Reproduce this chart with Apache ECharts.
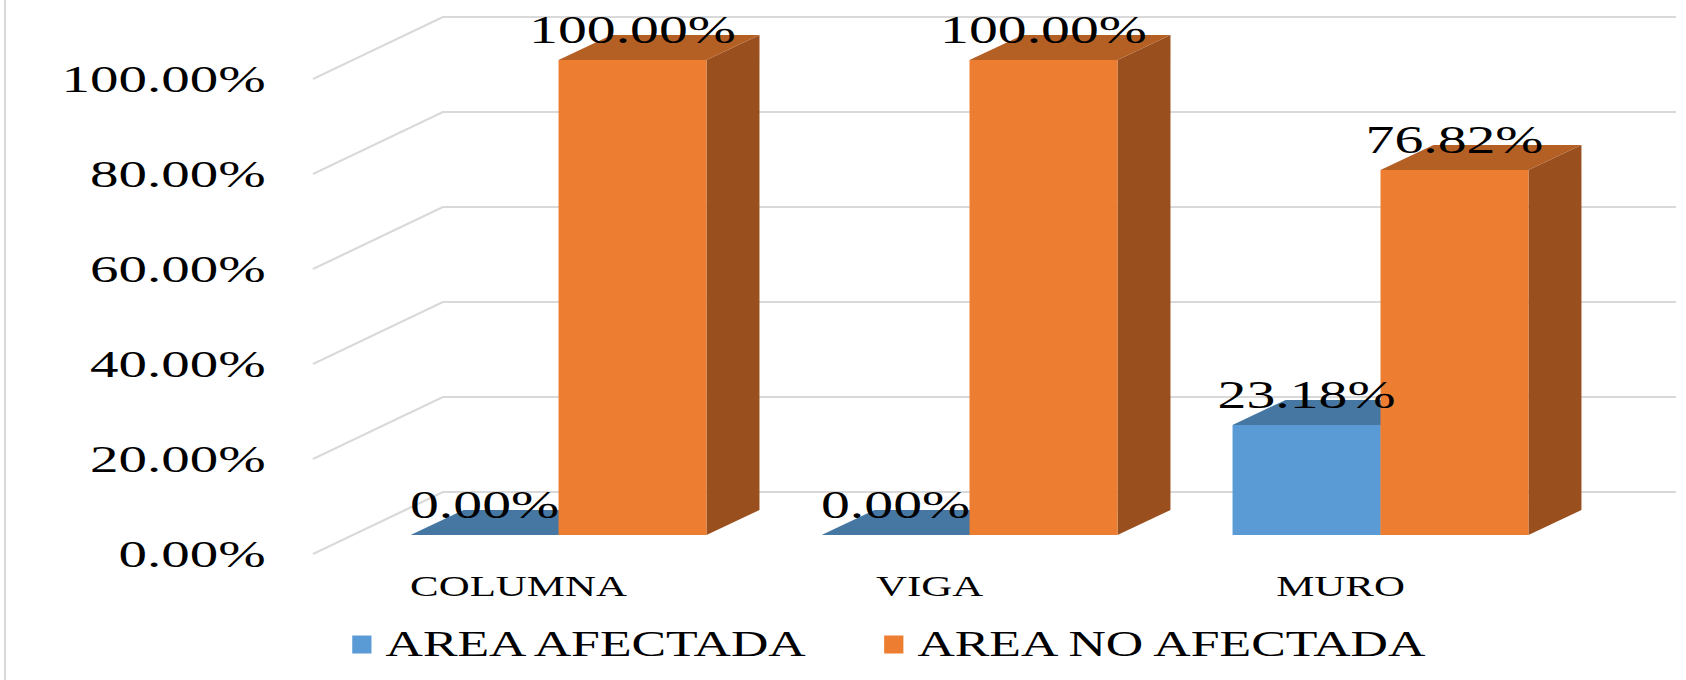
<!DOCTYPE html>
<html><head><meta charset="utf-8">
<script src="https://cdn.jsdelivr.net/npm/echarts@6/dist/echarts.min.js"></script>
<style>
html,body{margin:0;padding:0;background:#fff;overflow:hidden}
#wrap{width:1686px;height:680px;overflow:hidden;position:relative}
#chart{width:1139px;height:680px;transform:scaleX(1.48);transform-origin:0 0}
</style></head>
<body><div id="wrap"><div id="chart"></div></div>
<script>
// ---- data ----
const categories = ['COLUMNA', 'VIGA', 'MURO'];
const seriesNames = ['AREA AFECTADA', 'AREA NO AFECTADA'];
const areaAfectada = [0.00, 0.00, 23.18];
const areaNoAfectada = [100.00, 100.00, 76.82];
const yTicks = [0, 20, 40, 60, 80, 100];

// ---- layout / style ----
const S = 1.48; // horizontal stretch of the original picture
const FONT = '"Liberation Serif","Times New Roman",serif';
const WALL = {dx: 130 / S, dy: -62};
const BAR_OFF = {dx: 40 / S, dy: -19};
const DEPTH = {dx: 53 / S, dy: -25};
const BAR_RATIO = 0.36;
const BLUE = {front: '#5B9BD5', top: '#4676A2', side: '#3B658C'};
const ORANGE = {front: '#ED7D31', top: '#B45F24', side: '#9A4F1F'};

const chart = echarts.init(document.getElementById('chart'), null, {renderer: 'svg', width: 1139, height: 680});

function geom(api, side) {
  const i = api.value(0), v = api.value(1);
  const top = api.coord([i, v]), base = api.coord([i, 0]);
  const band = api.size([1, 0])[0];
  const w = band * BAR_RATIO;
  const x0 = base[0] + BAR_OFF.dx - (side === 0 ? w : 0);
  return {x0: x0, x1: x0 + w, w: w, yt: top[1] + BAR_OFF.dy, yb: base[1] + BAR_OFF.dy, v: v};
}

function gridRender(params, api) {
  const y = api.coord([0, api.value(1)])[1];
  const cs = params.coordSys;
  const x0 = cs.x, x1 = cs.x + cs.width;
  return {
    type: 'polyline', silent: true,
    shape: {points: [[x0, y], [x0 + WALL.dx, y + WALL.dy], [x1 + WALL.dx, y + WALL.dy]]},
    style: {stroke: '#d9d9d9', lineWidth: 2, fill: null}
  };
}

function barRender(side, c) {
  return function (params, api) {
    const g = geom(api, side);
    const d = DEPTH;
    const children = [
      {type: 'polygon', shape: {points: [[g.x1, g.yt], [g.x1 + d.dx, g.yt + d.dy], [g.x1 + d.dx, g.yb + d.dy], [g.x1, g.yb]]}, style: {fill: c.side}},
      {type: 'polygon', shape: {points: [[g.x0, g.yt], [g.x1, g.yt], [g.x1 + d.dx, g.yt + d.dy], [g.x0 + d.dx, g.yt + d.dy]]}, style: {fill: c.top}}
    ];
    if (g.yb - g.yt > 0.5) {
      children.push({type: 'rect', shape: {x: g.x0, y: g.yt, width: g.w, height: g.yb - g.yt}, style: {fill: c.front}});
    }
    return {type: 'group', children: children};
  };
}

function labelRender(side) {
  return function (params, api) {
    const g = geom(api, side);
    return {
      type: 'text', silent: true,
      x: g.x0 + g.w / 2, y: g.yt - 30,
      style: {
        text: g.v.toFixed(2) + '%', fill: '#000',
        fontSize: 39, fontFamily: FONT,
        align: 'center', verticalAlign: 'middle'
      }
    };
  };
}

const toData = arr => arr.map((v, i) => [i, v]);

chart.setOption({
  animation: false,
  backgroundColor: '#fff',
  grid: {left: 211.5, right: 94.4, top: 79, bottom: 126},
  xAxis: {
    type: 'category', data: categories,
    axisLine: {show: false}, axisTick: {show: false}, splitLine: {show: false},
    axisLabel: {fontSize: 29, fontFamily: FONT, color: '#000', margin: 18}
  },
  yAxis: {
    type: 'value', min: 0, max: 100, interval: 20,
    axisLine: {show: false}, axisTick: {show: false}, splitLine: {show: false},
    axisLabel: {fontSize: 38.5, fontFamily: FONT, color: '#000', margin: 32,
      formatter: v => v.toFixed(2) + '%'}
  },
  legend: {
    data: seriesNames, left: 238, top: 627, icon: 'rect',
    itemWidth: 13, itemHeight: 18, itemGap: 49, padding: 0,
    textStyle: {fontSize: 35, fontFamily: FONT, color: '#000', padding: [0, 0, 0, 4.5]}
  },
  graphic: [{type: 'line', shape: {x1: 3.4, y1: 0, x2: 3.4, y2: 680}, style: {stroke: '#d9d9d9', lineWidth: 1.4}, silent: true}],
  series: [
    {type: 'custom', name: 'grid', renderItem: gridRender, data: yTicks.map(v => [0, v]), z: 1, silent: true},
    {type: 'custom', name: seriesNames[0], renderItem: barRender(0, BLUE), data: toData(areaAfectada), itemStyle: {color: BLUE.front}, z: 2},
    {type: 'custom', name: seriesNames[1], renderItem: barRender(1, ORANGE), data: toData(areaNoAfectada), itemStyle: {color: ORANGE.front}, z: 3},
    {type: 'custom', name: 'lbl0', renderItem: labelRender(0), data: toData(areaAfectada), z: 5, silent: true},
    {type: 'custom', name: 'lbl1', renderItem: labelRender(1), data: toData(areaNoAfectada), z: 5, silent: true}
  ]
});
</script>
</body></html>
